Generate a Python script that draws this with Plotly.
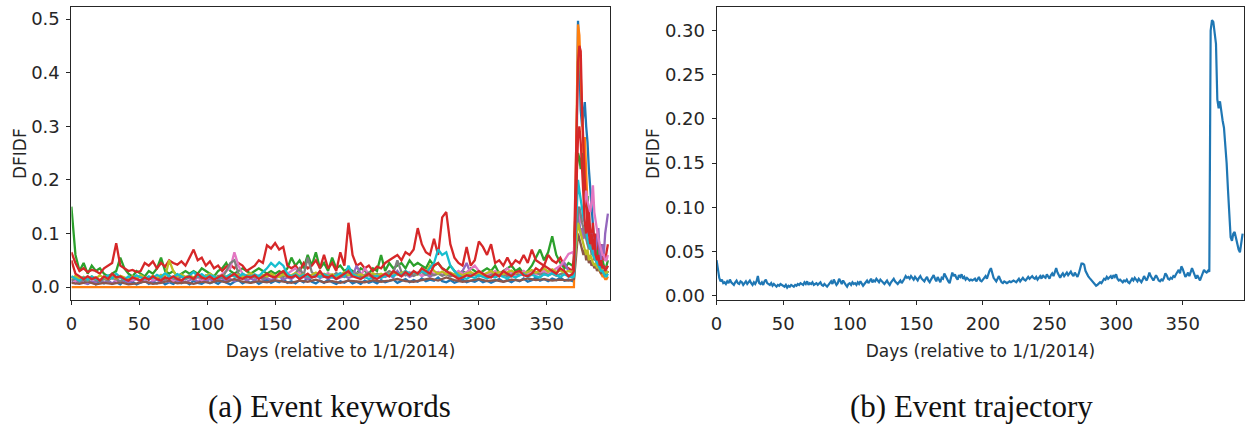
import plotly.graph_objects as go

# ---------------- data ----------------
# (b) Event trajectory: DFIDF per day, days 0..395
traj_vals = [
    0.040, 0.028, 0.020, 0.016, 0.018, 0.014, 0.015, 0.013, 0.016, 0.014,
    0.018, 0.015, 0.013, 0.012, 0.015, 0.017, 0.014, 0.013, 0.016, 0.015,
    0.012, 0.014, 0.016, 0.013, 0.015, 0.017, 0.014, 0.012, 0.015, 0.013,
    0.016, 0.022, 0.014, 0.013, 0.015, 0.012, 0.016, 0.018, 0.014, 0.013,
    0.012, 0.014, 0.011, 0.013, 0.012, 0.010, 0.012, 0.011, 0.013, 0.012,
    0.011, 0.010, 0.012, 0.009, 0.011, 0.010, 0.012, 0.011, 0.010, 0.012,
    0.011, 0.013, 0.012, 0.014, 0.013, 0.012, 0.015, 0.013, 0.016, 0.012,
    0.014, 0.013, 0.015, 0.012, 0.013, 0.014, 0.012, 0.013, 0.015, 0.012,
    0.011, 0.013, 0.012, 0.010, 0.012, 0.014, 0.016, 0.013, 0.018, 0.015,
    0.012, 0.014, 0.019, 0.016, 0.013, 0.017, 0.014, 0.012, 0.010, 0.013,
    0.014, 0.012, 0.015, 0.013, 0.014, 0.012, 0.015, 0.013, 0.016, 0.014,
    0.011, 0.013, 0.015, 0.017, 0.014, 0.016, 0.019, 0.015, 0.017, 0.016,
    0.019, 0.017, 0.015, 0.018, 0.016, 0.014, 0.013, 0.015, 0.017, 0.014,
    0.012, 0.015, 0.017, 0.019, 0.016, 0.014, 0.013, 0.015, 0.017, 0.014,
    0.016, 0.019, 0.022, 0.020, 0.021, 0.019, 0.022, 0.020, 0.018, 0.021,
    0.019, 0.017, 0.020, 0.022, 0.019, 0.017, 0.016, 0.019, 0.021, 0.017,
    0.015, 0.018, 0.020, 0.023, 0.019, 0.016, 0.021, 0.018, 0.015, 0.020,
    0.019, 0.025, 0.022, 0.018, 0.016, 0.014, 0.019, 0.026, 0.022, 0.024,
    0.020, 0.018, 0.023, 0.021, 0.024, 0.019, 0.021, 0.018, 0.020, 0.019,
    0.017, 0.018, 0.017, 0.018, 0.019, 0.016, 0.018, 0.021, 0.017, 0.016,
    0.018, 0.020, 0.022, 0.019, 0.024, 0.028, 0.031, 0.025, 0.020, 0.018,
    0.016, 0.019, 0.022, 0.018, 0.015, 0.014, 0.016, 0.015, 0.014, 0.015,
    0.016, 0.015, 0.016, 0.017, 0.016, 0.015, 0.017, 0.019, 0.016, 0.018,
    0.020, 0.018, 0.017, 0.019, 0.021, 0.019, 0.020, 0.022, 0.020, 0.019,
    0.021, 0.018, 0.020, 0.022, 0.019, 0.023, 0.021, 0.020, 0.024, 0.022,
    0.019, 0.023, 0.025, 0.022, 0.027, 0.031, 0.026, 0.022, 0.020, 0.023,
    0.025, 0.022, 0.024, 0.026, 0.023, 0.025, 0.027, 0.024, 0.022, 0.026,
    0.023, 0.021, 0.025, 0.030, 0.036, 0.036, 0.035, 0.028, 0.024, 0.022,
    0.020, 0.018, 0.016, 0.014, 0.012, 0.011, 0.012, 0.013, 0.015, 0.014,
    0.017, 0.019, 0.018, 0.021, 0.019, 0.020, 0.022, 0.019, 0.023, 0.021,
    0.024, 0.019, 0.017, 0.018, 0.016, 0.015, 0.017, 0.016, 0.018, 0.015,
    0.014, 0.016, 0.019, 0.017, 0.020, 0.018, 0.016, 0.019, 0.017, 0.015,
    0.018, 0.022, 0.019, 0.017, 0.021, 0.026, 0.022, 0.019, 0.017, 0.020,
    0.023, 0.020, 0.017, 0.016, 0.018, 0.017, 0.020, 0.025, 0.023, 0.019,
    0.018, 0.020, 0.019, 0.022, 0.021, 0.024, 0.027, 0.029, 0.025, 0.033,
    0.030, 0.024, 0.021, 0.023, 0.026, 0.022, 0.028, 0.031, 0.027, 0.022,
    0.019, 0.023, 0.020, 0.017, 0.021, 0.025, 0.029, 0.027, 0.026, 0.028,
    0.027, 0.300, 0.312, 0.310, 0.300, 0.285, 0.222, 0.212, 0.220, 0.205,
    0.198, 0.190, 0.172, 0.150, 0.120, 0.090, 0.066, 0.062, 0.070, 0.072,
    0.065, 0.058, 0.052, 0.049, 0.060, 0.070,
]
traj_days = list(range(len(traj_vals)))

# (a) Event keywords: quiet period sampled every 3 (or 6) days, burst daily (days 370..395)
peak_days = list(range(370, 396))

kw_blue_low = [0.020, 0.012, 0.008, 0.013, 0.006, 0.010, 0.005, 0.011, 0.007, 0.012,
               0.006, 0.009, 0.005, 0.012, 0.007, 0.010, 0.005, 0.009, 0.012, 0.006,
               0.010, 0.007, 0.012, 0.005, 0.009, 0.006, 0.011, 0.007, 0.010, 0.005,
               0.012, 0.008, 0.006, 0.011, 0.007, 0.010, 0.006, 0.012, 0.008, 0.005,
               0.010, 0.013, 0.007, 0.011, 0.008, 0.012, 0.006, 0.010, 0.014, 0.008,
               0.012, 0.009, 0.015, 0.008, 0.011, 0.007, 0.013, 0.009, 0.018, 0.010,
               0.007, 0.012, 0.008, 0.014, 0.009, 0.006, 0.011, 0.008, 0.013, 0.007,
               0.010, 0.006, 0.012, 0.008, 0.011, 0.007, 0.013, 0.009, 0.011, 0.014,
               0.008, 0.012, 0.015, 0.009, 0.013, 0.010, 0.016, 0.011, 0.014, 0.012,
               0.018, 0.011, 0.009, 0.013, 0.008, 0.011, 0.014, 0.009, 0.012, 0.010,
               0.014, 0.009, 0.012, 0.008, 0.011, 0.015, 0.010, 0.013, 0.009, 0.014,
               0.011, 0.016, 0.010, 0.013, 0.018, 0.012, 0.015, 0.011, 0.016, 0.013,
               0.018, 0.012, 0.014, 0.011]
kw_blue_peak = [0.015, 0.080, 0.250, 0.497, 0.420, 0.330, 0.300, 0.330, 0.345, 0.300,
                0.270, 0.220, 0.180, 0.140, 0.100, 0.080, 0.060, 0.050, 0.045, 0.040,
                0.035, 0.030, 0.030, 0.025, 0.025, 0.030]

kw_orange_low_days = [0, 369]
kw_orange_low = [0.0, 0.0]
kw_orange_peak = [0.000, 0.150, 0.350, 0.490, 0.470, 0.400, 0.300, 0.250, 0.280, 0.200,
                  0.150, 0.120, 0.090, 0.100, 0.070, 0.060, 0.050, 0.040, 0.035, 0.030,
                  0.025, 0.020, 0.020, 0.015, 0.015, 0.020]

kw_green_low = [0.150, 0.060, 0.030, 0.045, 0.025, 0.040, 0.030, 0.035, 0.025, 0.020,
                0.025, 0.030, 0.055, 0.035, 0.025, 0.020, 0.030, 0.025, 0.020, 0.030,
                0.025, 0.035, 0.055, 0.030, 0.025, 0.030, 0.020, 0.025, 0.030, 0.025,
                0.030, 0.025, 0.035, 0.030, 0.025, 0.020, 0.030, 0.035, 0.045, 0.030,
                0.025, 0.030, 0.035, 0.030, 0.025, 0.030, 0.035, 0.030, 0.025, 0.030,
                0.025, 0.030, 0.025, 0.035, 0.055, 0.040, 0.050, 0.035, 0.060, 0.040,
                0.065, 0.035, 0.045, 0.030, 0.055, 0.035, 0.040, 0.030, 0.035, 0.030,
                0.025, 0.035, 0.030, 0.025, 0.035, 0.030, 0.060, 0.030, 0.045, 0.035,
                0.040, 0.045, 0.035, 0.050, 0.040, 0.045, 0.040, 0.035, 0.050, 0.040,
                0.045, 0.035, 0.030, 0.040, 0.030, 0.025, 0.030, 0.025, 0.035, 0.030,
                0.025, 0.030, 0.035, 0.030, 0.040, 0.025, 0.030, 0.035, 0.040, 0.030,
                0.035, 0.025, 0.030, 0.040, 0.055, 0.070, 0.050, 0.065, 0.095, 0.060,
                0.045, 0.035, 0.045, 0.040]
kw_green_peak = [0.050, 0.150, 0.220, 0.250, 0.240, 0.220, 0.250, 0.200, 0.180, 0.150,
                 0.170, 0.120, 0.100, 0.080, 0.100, 0.070, 0.060, 0.080, 0.050, 0.060,
                 0.040, 0.050, 0.040, 0.035, 0.040, 0.050]

kw_red_low = [0.065, 0.045, 0.030, 0.035, 0.028, 0.032, 0.030, 0.025, 0.035, 0.040,
              0.045, 0.082, 0.040, 0.035, 0.030, 0.032, 0.028, 0.030, 0.045, 0.040,
              0.048, 0.035, 0.045, 0.038, 0.050, 0.045, 0.042, 0.048, 0.040, 0.055,
              0.070, 0.050, 0.055, 0.040, 0.048, 0.035, 0.040, 0.030, 0.038, 0.042,
              0.035, 0.045, 0.040, 0.030, 0.035, 0.040, 0.050, 0.045, 0.078, 0.072,
              0.082, 0.070, 0.075, 0.040, 0.035, 0.040, 0.030, 0.045, 0.035, 0.040,
              0.050, 0.035, 0.060, 0.035, 0.045, 0.030, 0.065, 0.040, 0.120, 0.060,
              0.040, 0.045, 0.035, 0.040, 0.030, 0.038, 0.035, 0.045, 0.050, 0.055,
              0.060, 0.050, 0.065, 0.060, 0.070, 0.110, 0.080, 0.065, 0.060, 0.090,
              0.060, 0.130, 0.140, 0.080, 0.055, 0.045, 0.040, 0.075, 0.040, 0.050,
              0.085, 0.075, 0.060, 0.080, 0.045, 0.050, 0.040, 0.055, 0.040, 0.050,
              0.045, 0.060, 0.045, 0.070, 0.050, 0.045, 0.040, 0.060, 0.050, 0.045,
              0.055, 0.040, 0.035, 0.030]
kw_red_peak = [0.060, 0.200, 0.350, 0.420, 0.450, 0.440, 0.330, 0.250, 0.200, 0.150,
               0.120, 0.150, 0.100, 0.090, 0.120, 0.080, 0.100, 0.070, 0.090, 0.060,
               0.080, 0.050, 0.060, 0.050, 0.070, 0.080]

kw_purple_low = [0.010, 0.007, 0.012, 0.008, 0.006, 0.011, 0.009, 0.014, 0.008, 0.011,
                 0.007, 0.012, 0.009, 0.013, 0.008, 0.011, 0.015, 0.009, 0.012, 0.008,
                 0.011, 0.014, 0.009, 0.012, 0.010, 0.015, 0.011, 0.013, 0.009, 0.012,
                 0.016, 0.010, 0.013, 0.011, 0.015, 0.010, 0.013, 0.017, 0.012, 0.015,
                 0.011, 0.014, 0.018, 0.012, 0.016, 0.013, 0.019, 0.014, 0.017, 0.013,
                 0.016, 0.020, 0.014, 0.018, 0.015, 0.021, 0.016, 0.019, 0.015, 0.018,
                 0.022, 0.017, 0.020, 0.016, 0.019, 0.015, 0.018, 0.021, 0.017, 0.020,
                 0.040, 0.025, 0.018, 0.022, 0.017, 0.020, 0.024, 0.019, 0.022, 0.018,
                 0.030, 0.021, 0.025, 0.019, 0.023, 0.027, 0.021, 0.024, 0.020, 0.023,
                 0.028, 0.022, 0.026, 0.021, 0.024, 0.020, 0.030, 0.045, 0.025, 0.022,
                 0.026, 0.021, 0.025, 0.029, 0.022, 0.026, 0.021, 0.024, 0.028, 0.023,
                 0.027, 0.022, 0.026, 0.030, 0.024, 0.028, 0.023, 0.026, 0.030, 0.025,
                 0.040, 0.045, 0.030, 0.028]
kw_purple_peak = [0.025, 0.060, 0.100, 0.140, 0.120, 0.100, 0.110, 0.090, 0.100, 0.120,
                  0.080, 0.090, 0.070, 0.100, 0.080, 0.060, 0.070, 0.090, 0.110, 0.060,
                  0.050, 0.080, 0.060, 0.100, 0.120, 0.137]

kw_brown_low = [0.008, 0.006, 0.010, 0.005, 0.008, 0.006, 0.009, 0.005, 0.007, 0.010,
                0.006, 0.008, 0.012, 0.007, 0.009, 0.006, 0.010, 0.008, 0.012, 0.009,
                0.015, 0.010, 0.008, 0.011, 0.009, 0.013, 0.010, 0.008, 0.012, 0.010,
                0.014, 0.009, 0.011, 0.008, 0.012, 0.010, 0.009, 0.013, 0.010, 0.012,
                0.015, 0.011, 0.010, 0.013, 0.016, 0.012, 0.018, 0.013, 0.010, 0.012,
                0.015, 0.011, 0.013, 0.010, 0.014, 0.012, 0.016, 0.013, 0.015, 0.012,
                0.014, 0.012]
kw_brown_peak = [0.015, 0.040, 0.080, 0.100, 0.090, 0.080, 0.070, 0.060, 0.070, 0.050,
                 0.060, 0.045, 0.050, 0.040, 0.045, 0.035, 0.040, 0.030, 0.035, 0.030,
                 0.025, 0.030, 0.025, 0.020, 0.025, 0.030]

kw_pink_low = [0.015, 0.011, 0.018, 0.013, 0.020, 0.014, 0.016, 0.012, 0.019, 0.014,
               0.017, 0.012, 0.020, 0.015, 0.018, 0.013, 0.016, 0.021, 0.014, 0.018,
               0.013, 0.017, 0.020, 0.014, 0.018, 0.012, 0.016, 0.020, 0.015, 0.019,
               0.014, 0.018, 0.013, 0.017, 0.021, 0.015, 0.019, 0.024, 0.030, 0.035,
               0.065, 0.040, 0.025, 0.020, 0.023, 0.018, 0.021, 0.017, 0.020, 0.024,
               0.019, 0.023, 0.020, 0.025, 0.030, 0.035, 0.026, 0.021, 0.024, 0.020,
               0.023, 0.019, 0.022, 0.026, 0.021, 0.025, 0.020, 0.023, 0.027, 0.022,
               0.026, 0.021, 0.035, 0.024, 0.020, 0.023, 0.019, 0.022, 0.026, 0.021,
               0.025, 0.020, 0.024, 0.028, 0.022, 0.026, 0.021, 0.025, 0.030, 0.024,
               0.028, 0.023, 0.026, 0.022, 0.025, 0.030, 0.024, 0.028, 0.034, 0.040,
               0.030, 0.025, 0.022, 0.026, 0.030, 0.024, 0.028, 0.035, 0.026, 0.022,
               0.025, 0.030, 0.024, 0.028, 0.023, 0.026, 0.032, 0.025, 0.030, 0.035,
               0.040, 0.050, 0.062, 0.065]
kw_pink_peak = [0.060, 0.100, 0.130, 0.150, 0.140, 0.120, 0.130, 0.150, 0.170, 0.180,
                0.160, 0.150, 0.140, 0.160, 0.190, 0.140, 0.120, 0.100, 0.090, 0.080,
                0.070, 0.060, 0.060, 0.050, 0.050, 0.060]

kw_gray_low = [0.012, 0.016, 0.010, 0.014, 0.011, 0.017, 0.013, 0.010, 0.015, 0.012,
               0.018, 0.014, 0.011, 0.016, 0.013, 0.019, 0.015, 0.012, 0.017, 0.014,
               0.020, 0.015, 0.018, 0.013, 0.021, 0.016, 0.014, 0.019, 0.015, 0.018,
               0.014, 0.020, 0.016, 0.022, 0.018, 0.015, 0.021, 0.017, 0.030, 0.045,
               0.050, 0.025, 0.020, 0.017, 0.022, 0.018, 0.021, 0.016, 0.020, 0.023,
               0.018, 0.022, 0.019, 0.024, 0.020, 0.026, 0.035, 0.022, 0.055, 0.028,
               0.021, 0.025, 0.019, 0.023, 0.020, 0.026, 0.022, 0.019, 0.024, 0.021,
               0.025, 0.020, 0.023, 0.027, 0.022, 0.025, 0.021, 0.024, 0.030, 0.026,
               0.050, 0.028, 0.022, 0.026, 0.021, 0.025, 0.028, 0.023, 0.026, 0.022,
               0.025, 0.021, 0.024, 0.020, 0.023, 0.019, 0.022, 0.025, 0.021, 0.024,
               0.020, 0.023, 0.019, 0.022, 0.026, 0.021, 0.024, 0.020, 0.023, 0.026,
               0.022, 0.025, 0.021, 0.024, 0.028, 0.023, 0.026, 0.022, 0.025, 0.021,
               0.024, 0.027, 0.022, 0.020]
kw_gray_peak = [0.020, 0.060, 0.100, 0.140, 0.150, 0.130, 0.120, 0.110, 0.100, 0.090,
                0.080, 0.070, 0.080, 0.060, 0.065, 0.050, 0.055, 0.045, 0.050, 0.040,
                0.045, 0.035, 0.040, 0.030, 0.035, 0.040]

kw_olive_low = [0.016, 0.021, 0.015, 0.019, 0.014, 0.020, 0.016, 0.022, 0.017, 0.015,
                0.020, 0.016, 0.021, 0.018, 0.015, 0.020, 0.017, 0.022, 0.018, 0.016,
                0.021, 0.017, 0.023, 0.019, 0.050, 0.030, 0.020, 0.024, 0.019, 0.022,
                0.018, 0.023, 0.019, 0.021, 0.025, 0.020, 0.018, 0.022, 0.019, 0.024,
                0.020, 0.023, 0.019, 0.022, 0.026, 0.021, 0.018, 0.023, 0.020, 0.025,
                0.021, 0.019, 0.024, 0.020, 0.022, 0.026, 0.021, 0.024, 0.020, 0.023,
                0.027, 0.022, 0.025, 0.021, 0.024, 0.020, 0.023, 0.028, 0.022, 0.025,
                0.021, 0.024, 0.020, 0.023, 0.026, 0.022, 0.025, 0.021, 0.024, 0.028,
                0.023, 0.026, 0.030, 0.024, 0.028, 0.023, 0.035, 0.027, 0.040, 0.030,
                0.025, 0.029, 0.024, 0.027, 0.023, 0.026, 0.022, 0.025, 0.028, 0.024,
                0.027, 0.023, 0.026, 0.030, 0.025, 0.028, 0.024, 0.027, 0.031, 0.026,
                0.029, 0.025, 0.028, 0.032, 0.027, 0.030, 0.035, 0.029, 0.033, 0.028,
                0.031, 0.027, 0.030, 0.028]
kw_olive_peak = [0.030, 0.060, 0.100, 0.120, 0.110, 0.100, 0.090, 0.080, 0.070, 0.060,
                 0.070, 0.050, 0.060, 0.050, 0.045, 0.040, 0.045, 0.035, 0.040, 0.030,
                 0.035, 0.030, 0.025, 0.030, 0.025, 0.030]

kw_cyan_low = [0.020, 0.016, 0.012, 0.018, 0.014, 0.020, 0.015, 0.012, 0.018, 0.022,
               0.016, 0.025, 0.018, 0.014, 0.020, 0.016, 0.022, 0.018, 0.015, 0.020,
               0.017, 0.023, 0.019, 0.026, 0.020, 0.018, 0.024, 0.020, 0.016, 0.022,
               0.028, 0.020, 0.024, 0.018, 0.022, 0.020, 0.016, 0.021, 0.019, 0.024,
               0.020, 0.018, 0.025, 0.021, 0.019, 0.024, 0.020, 0.028, 0.035, 0.045,
               0.038, 0.046, 0.040, 0.025, 0.020, 0.024, 0.019, 0.023, 0.020, 0.018,
               0.022, 0.019, 0.024, 0.020, 0.018, 0.022, 0.026, 0.020, 0.040, 0.024,
               0.020, 0.016, 0.019, 0.015, 0.018, 0.021, 0.017, 0.020, 0.024, 0.020,
               0.026, 0.022, 0.030, 0.025, 0.028, 0.024, 0.030, 0.026, 0.035, 0.045,
               0.070, 0.060, 0.065, 0.040, 0.030, 0.022, 0.018, 0.015, 0.020, 0.017,
               0.022, 0.019, 0.016, 0.020, 0.018, 0.022, 0.019, 0.016, 0.021, 0.018,
               0.022, 0.025, 0.019, 0.023, 0.020, 0.018, 0.024, 0.021, 0.026, 0.022,
               0.019, 0.024, 0.020, 0.018]
kw_cyan_peak = [0.020, 0.080, 0.150, 0.200, 0.180, 0.160, 0.140, 0.130, 0.120, 0.100,
                0.090, 0.080, 0.070, 0.075, 0.060, 0.055, 0.050, 0.045, 0.040, 0.035,
                0.030, 0.030, 0.025, 0.020, 0.020, 0.025]

kw_red2_low = [0.050, 0.025, 0.020, 0.015, 0.020, 0.015, 0.018, 0.012, 0.020, 0.015,
               0.025, 0.018, 0.020, 0.015, 0.012, 0.018, 0.015, 0.012, 0.018, 0.014,
               0.020, 0.015, 0.012, 0.018, 0.015, 0.020, 0.015, 0.012, 0.018, 0.020,
               0.015, 0.025, 0.018, 0.015, 0.020, 0.014, 0.018, 0.022, 0.015, 0.020,
               0.025, 0.018, 0.015, 0.020, 0.018, 0.022, 0.015, 0.020, 0.025, 0.020,
               0.018, 0.025, 0.030, 0.020, 0.018, 0.022, 0.015, 0.020, 0.025, 0.018,
               0.020, 0.030, 0.020, 0.018, 0.022, 0.015, 0.020, 0.025, 0.030, 0.020,
               0.018, 0.015, 0.020, 0.025, 0.018, 0.015, 0.020, 0.025, 0.020, 0.030,
               0.025, 0.020, 0.028, 0.022, 0.030, 0.025, 0.035, 0.030, 0.025, 0.040,
               0.045, 0.035, 0.030, 0.025, 0.020, 0.015, 0.018, 0.022, 0.020, 0.025,
               0.030, 0.025, 0.020, 0.018, 0.025, 0.020, 0.030, 0.025, 0.020, 0.028,
               0.030, 0.022, 0.020, 0.025, 0.035, 0.030, 0.040, 0.035, 0.030, 0.025,
               0.035, 0.030, 0.020, 0.025]
kw_red2_peak = [0.030, 0.100, 0.200, 0.280, 0.300, 0.270, 0.220, 0.150, 0.120, 0.100,
                0.130, 0.100, 0.080, 0.100, 0.070, 0.090, 0.060, 0.050, 0.060, 0.040,
                0.050, 0.035, 0.040, 0.030, 0.035, 0.040]

# (name, sampling step of the quiet period, quiet values, burst values, colour)
keyword_series = [
    ("blue", 3, kw_blue_low, kw_blue_peak, "#1f77b4"),
    ("orange", None, kw_orange_low, kw_orange_peak, "#ff7f0e"),
    ("green", 3, kw_green_low, kw_green_peak, "#2ca02c"),
    ("red", 3, kw_red_low, kw_red_peak, "#d62728"),
    ("purple", 3, kw_purple_low, kw_purple_peak, "#9467bd"),
    ("brown", 6, kw_brown_low, kw_brown_peak, "#8c564b"),
    ("pink", 3, kw_pink_low, kw_pink_peak, "#e377c2"),
    ("gray", 3, kw_gray_low, kw_gray_peak, "#7f7f7f"),
    ("olive", 3, kw_olive_low, kw_olive_peak, "#bcbd22"),
    ("cyan", 3, kw_cyan_low, kw_cyan_peak, "#17becf"),
    ("red2", 3, kw_red2_low, kw_red2_peak, "#d62728"),
]

# ---------------- figure ----------------
W, H = 1254, 426
fig = go.Figure()

for name, step, low, peak, col in keyword_series:
    if step is None:
        ldays = kw_orange_low_days
    else:
        ldays = list(range(0, 370, step))
    n = min(len(ldays), len(low))
    xs = ldays[:n] + peak_days
    ys = low[:n] + peak
    fig.add_trace(go.Scatter(x=xs, y=ys, mode="lines", name=name,
                             line=dict(color=col, width=2.3), xaxis="x", yaxis="y",
                             showlegend=False, hoverinfo="skip"))

fig.add_trace(go.Scatter(x=traj_days, y=traj_vals, mode="lines", name="trajectory",
                         line=dict(color="#1f77b4", width=2.2), xaxis="x2", yaxis="y2",
                         showlegend=False, hoverinfo="skip"))

TXT = "#262626"
tickfont = dict(family="DejaVu Sans", size=18, color=TXT)
titlefont = dict(family="DejaVu Sans", size=17, color=TXT)
axcommon = dict(showline=True, linecolor=TXT, linewidth=1, mirror=True,
                ticks="outside", ticklen=4, tickcolor=TXT, showgrid=False,
                zeroline=False, tickfont=tickfont, ticklabelstandoff=3)

def px_x(p):
    return p / W

def px_y(p):
    return 1 - p / H

day_ticks = [0, 50, 100, 150, 200, 250, 300, 350]

fig.update_layout(
    width=W, height=H, margin=dict(l=0, r=0, t=0, b=0),
    paper_bgcolor="white", plot_bgcolor="white",
    xaxis=dict(domain=[px_x(65.7), px_x(606.7)], range=[0, 396.4], anchor="y",
               tickvals=day_ticks,
               title=dict(text="Days (relative to 1/1/2014)", standoff=12, font=titlefont),
               **axcommon),
    yaxis=dict(domain=[px_y(304), px_y(7)], range=[-0.0249, 0.5227], anchor="x",
               tickvals=[0.0, 0.1, 0.2, 0.3, 0.4, 0.5], tickformat=".1f",
               title=dict(text="DFIDF", standoff=0, font=titlefont),
               **axcommon),
    xaxis2=dict(domain=[px_x(714), px_x(1244.3)], range=[0, 396.3], anchor="y2",
                tickvals=day_ticks,
                title=dict(text="Days (relative to 1/1/2014)", standoff=12, font=titlefont),
                **axcommon),
    yaxis2=dict(domain=[px_y(304), px_y(7)], range=[-0.0056, 0.3269], anchor="x2",
                tickvals=[0.0, 0.05, 0.10, 0.15, 0.20, 0.25, 0.30], tickformat=".2f",
                title=dict(text="DFIDF", standoff=0, font=titlefont),
                **axcommon),
    annotations=[
        dict(text="(a) Event keywords", x=px_x(325), y=px_y(411), xref="paper", yref="paper",
             showarrow=False, xanchor="center", yanchor="middle",
             font=dict(family="Liberation Serif", size=31, color="#111111")),
        dict(text="(b) Event trajectory", x=px_x(970), y=px_y(411), xref="paper", yref="paper",
             showarrow=False, xanchor="center", yanchor="middle",
             font=dict(family="Liberation Serif", size=31, color="#111111")),
    ],
)

fig.write_html("out.html")
